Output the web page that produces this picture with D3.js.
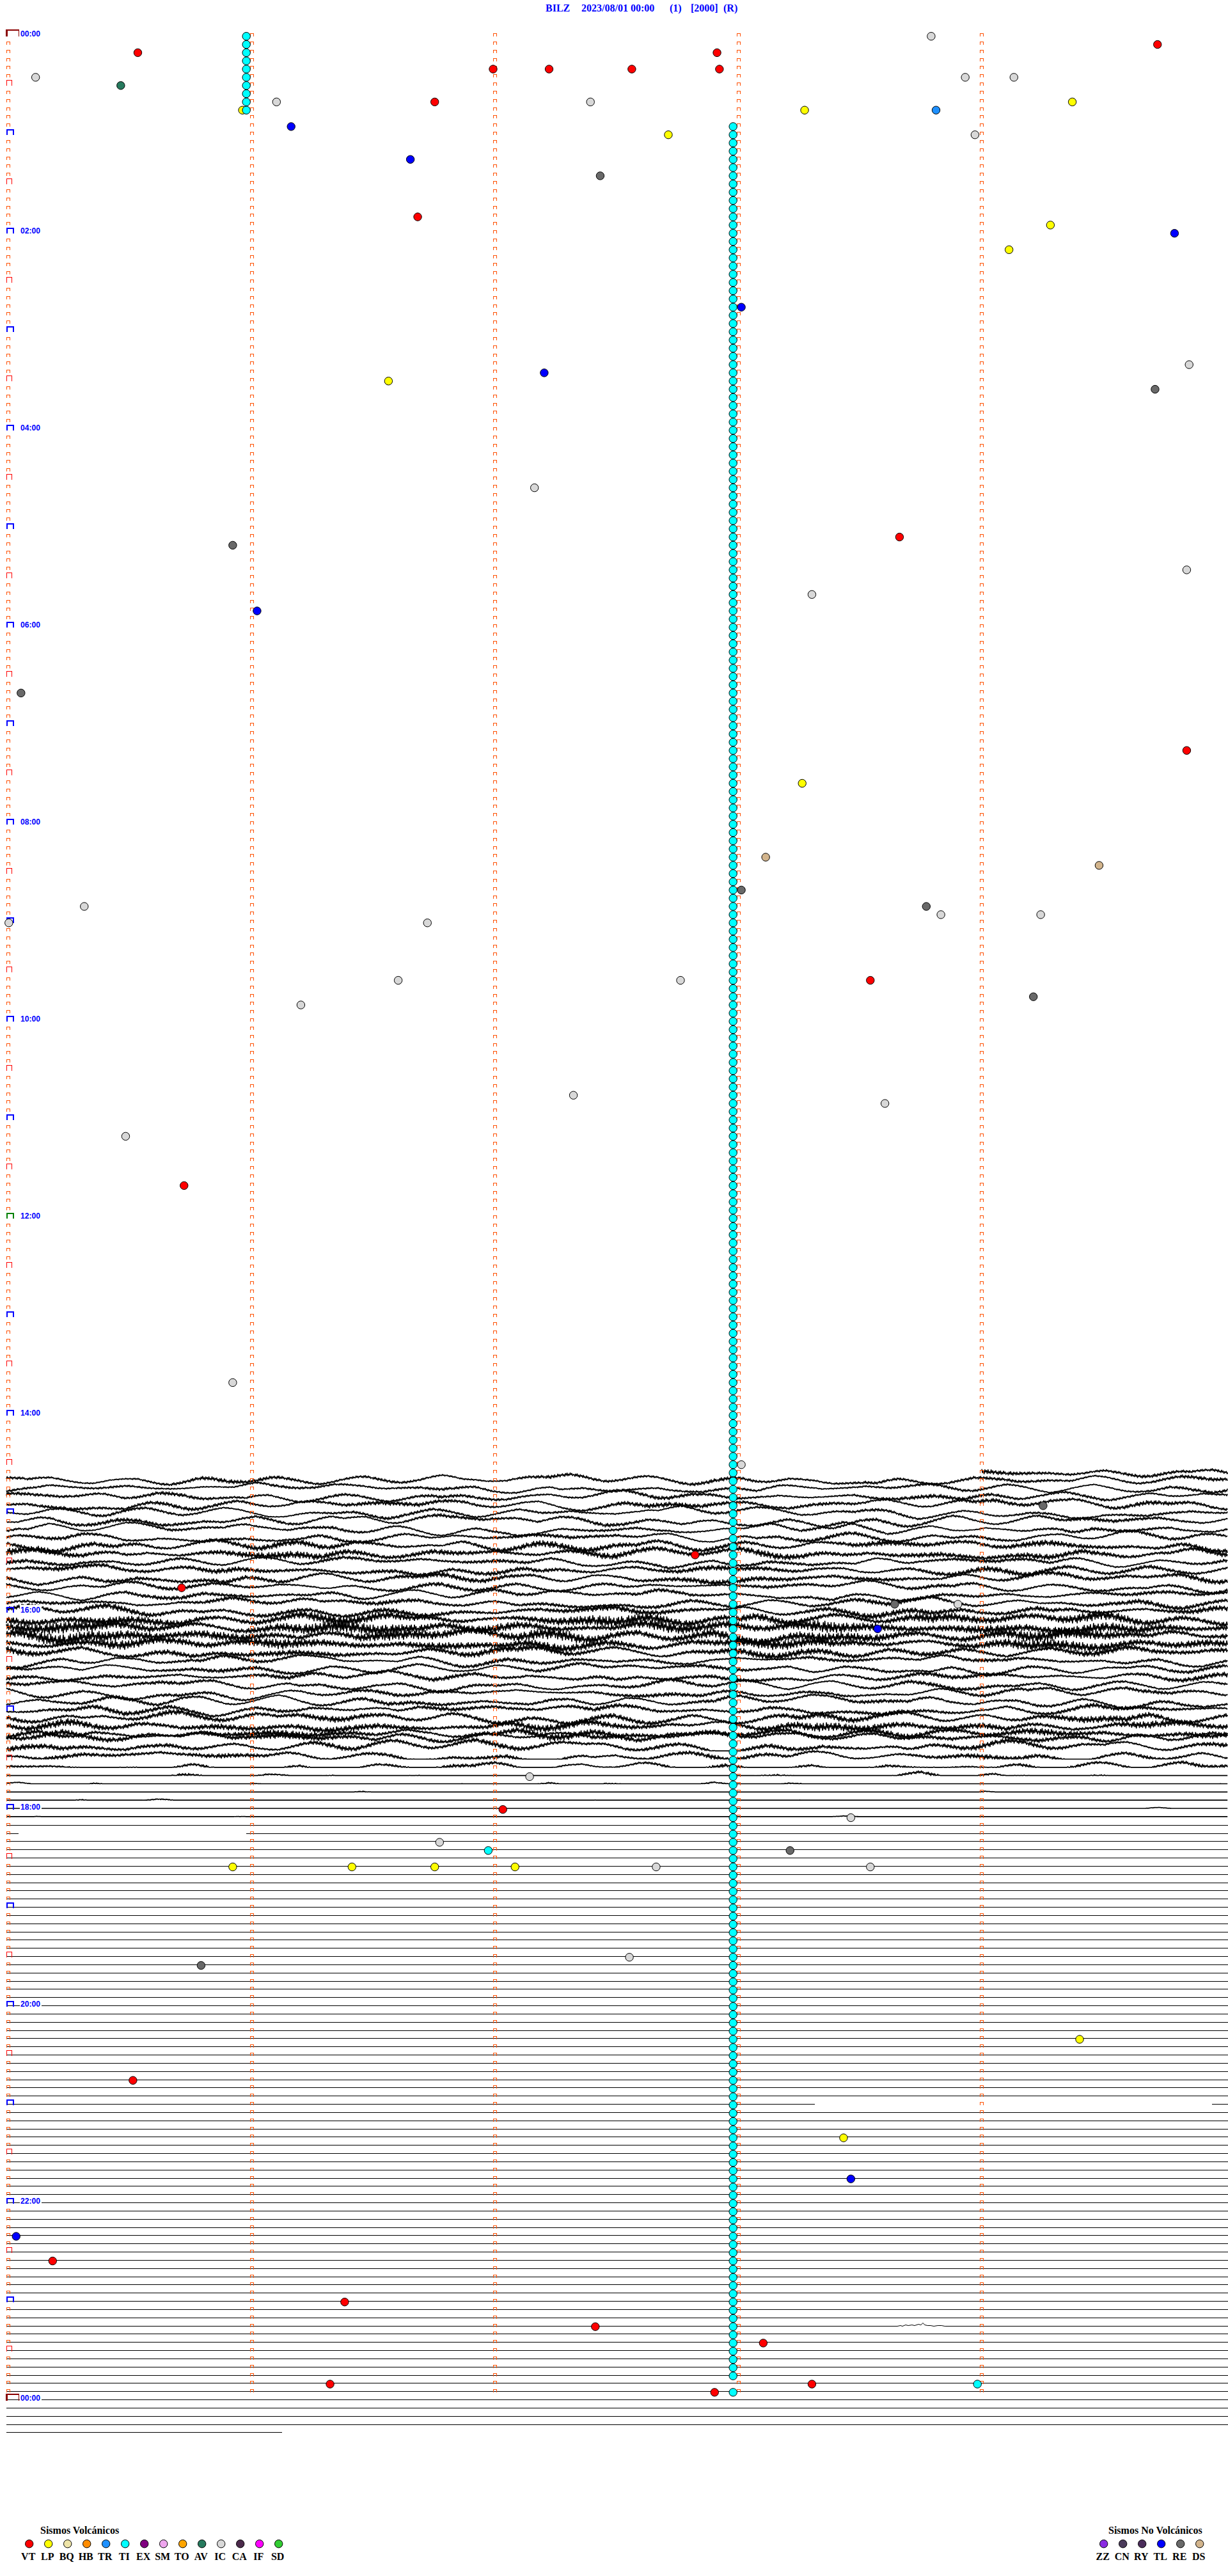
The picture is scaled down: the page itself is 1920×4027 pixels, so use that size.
<!DOCTYPE html>
<html><head><meta charset="utf-8"><title>BILZ 2023/08/01</title>
<script src="https://cdn.jsdelivr.net/npm/d3@7/dist/d3.min.js"></script>
<style>html,body{margin:0;padding:0;background:#fff;} svg{display:block;}</style>
</head><body>
<script>
// ================= DATA =================
const titleParts = ["BILZ", "2023/08/01 00:00", "(1)", "[2000]", "(R)"];
const hourLabels = ["00:00","02:00","04:00","06:00","08:00","10:00","12:00","14:00","16:00","18:00","20:00","22:00","00:00"];

const volcanicTypes  = ["VT","LP","BQ","HB","TR","TI","EX","SM","TO","AV","IC","CA","IF","SD"];
const volcanicColors = ["#ff0000","#ffff00","#eee4a8","#ff8c00","#1e90ff","#00ffff","#800080","#eea6ee","#ffa500","#267a5e","#d8d8d8","#4b2a4b","#ff00ff","#32cd32"];
const nonVolcanicTypes  = ["ZZ","CN","RY","TL","RE","DS"];
const nonVolcanicColors = ["#8a2be2","#4b3b5b","#4b2d5b","#0000ff","#696969","#d2b48c"];

// events: time of day in minutes, and type
const eventMinute = [3.80,9.73,10.54,12.92,22.00,22.23,22.57,22.93,25.12,28.94,29.14,30.47,41.11,41.76,42.40,44.38,45.97,48.28,48.82,56.17,
  62.72,63.98,76.66,87.44,111.69,119.29,124.80,134.12,168.02,207.21,211.57,204.86,219.72,277.17,308.67,310.93,329.85,351.03,343.31,400.06,
  439.85,458.27,503.12,509.49,523.02,533.78,538.84,539.25,530.32,540.01,541.73,576.61,577.77,578.55,589.22,591.21,647.33,653.61,670.49,700.73,
  820.93,873.02,899.26,927.83,945.72,958.65,958.91,973.58,1062.15,1082.04,1088.47,1101.78,1106.98,1108.22,1115.93,1116.42,1116.76,1117.09,1117.67,1118.55,
  1175.80,1172.56,1224.41,1245.52,1283.44,1308.47,1340.04,1355.19,1381.39,1397.42,1408.11,1431.33,1433.31,1433.99,1437.91];
const eventType = ["IC","VT","VT","VT","VT","VT","VT","VT","IC","IC","IC","AV","IC","VT","IC","LP","LP","LP","TR","TL",
  "LP","IC","TL","RE","VT","LP","TL","LP","TL","TL","LP","IC","RE","IC","VT","RE","IC","TL","IC","RE",
  "VT","LP","DS","DS","RE","RE","IC","IC","IC","IC","IC","IC","IC","VT","RE","IC","IC","IC","IC","VT",
  "IC","IC","RE","VT","VT","RE","IC","TL","IC","VT","IC","IC","TI","RE","LP","LP","LP","LP","IC","IC",
  "RE","IC","LP","VT","LP","TL","TL","VT","VT","VT","VT","VT","VT","TI","VT"];
// continuous tremor (TI) runs: one event per 5-minute row
const tiRunFrom = [0, 11], tiRunTo = [9, 287], tiRunMinute = [0.986, 2.986];
const tiRunSkip = [286];

// seismogram traces (rows of 5 minutes)
const traceFirstRow = 175, traceFirstStart = 4.008;
const ampLow = [7,8,9,8,9,9,10,10,9,9,8,9,8,9,8,9,8,8,8,7,8,7,8,9,9,8,9,9,10,9,9,8,8,9,9,8,8,7.5,7,6,5,4,3];
const ampJit = [3,2.5,2,2.5,3,2,2.5,2,2.5,4,4.5,2.5,3.5,3.5,2.5,2.5,3,4,6.5,7.5,7.5,6.5,4.5,2.5,2.5,3,2.5,2.5,2.5,3,4,5,4.5,3.5,3.5,3,2.5,2,1.5,1.2,1,0.6,0.5];
const clipFloor = [null,null,null,null,null,null,null,null,null,null,null,null,null,null,null,null,null,null,null,null,null,null,
  null,null,null,null,null,null,null,null,null,null,null,-10,-7,-4,0,3.5,5,5.5,4.5,3.2,2.4];
// waveform shapes traced from the record (unit amplitude)
const waveA = [0,0.5,0.9,0.4,-0.2,-0.6,-0.3,0.2,0.7,1,0.6,0.1,-0.4,-0.8,-0.5,0,0.3,0.1,-0.2,0.4,0.8,0.5,-0.1,-0.7,-1,-0.6,-0.1,0.3,0.6,0.2,-0.3,-0.5,
  -0.2,0.4,0.9,0.7,0.2,-0.3,-0.7,-0.4,0.1,0.5,0.3,-0.1,-0.6,-0.9,-0.4,0.2,0.6,0.8,0.3,-0.2,-0.5,-0.3,0.1,0.6,1,0.5,-0.1,-0.5,-0.8,-0.6,-0.2,0.3,
  0.5,0.2,-0.1,0.3,0.7,0.4,-0.2,-0.6,-0.4,0,0.4,0.8,0.6,0.1,-0.4,-0.9,-0.7,-0.2,0.2,0.5,0.1,-0.3,-0.1,0.4,0.9,0.5,0,-0.5,-0.7,-0.3,0.2,0.4];
const waveB = [0.3,-0.2,-0.7,-0.4,0.1,0.6,0.9,0.4,-0.1,-0.5,-0.2,0.3,0.1,-0.4,-0.9,-0.6,0,0.5,0.7,0.2,-0.3,-0.1,0.4,0.8,0.3,-0.3,-0.8,-0.5,0.1,0.4,
  0.2,-0.2,-0.6,-0.3,0.3,0.7,1,0.5,-0.2,-0.6,-0.4,0,0.5,0.3,-0.2,-0.7,-0.9,-0.3,0.2,0.6,0.4,0,-0.4,-0.2,0.3,0.8,0.6,0.1,-0.5,-0.8,
  -0.3,0.2,0.1,-0.3,0.2,0.6,0.9,0.3,-0.2,-0.6,-0.3,0.1,0.5,0.2,-0.3,-0.7,-0.4,0.2,0.5,0.1];
const driftShape = [0,0.4,0.8,0.5,-0.2,-0.7,-0.9,-0.4,0.2,0.6,0.3,-0.3,-0.6,-0.1];
const jitterShape = [0.2,-0.9,0.7,-0.4,1,-0.6,0.3,-1,0.8,-0.2,0.5,-0.8,0.9,-0.5,0.1,-0.7,1,-0.3,0.6,-0.9,0.4,-0.1,0.8,-0.6,0.2,-1,0.7,-0.4,0.9,-0.8,0.3,-0.5,1,-0.2,0.6,-0.7,0.1];
const jitterEnv = [0.6,1,0.8,0.4,0.7,1.2,0.9,0.5,0.3,0.8,1.3,1,0.6,0.9,0.5,0.4,1.1,0.8,0.6,1.2,0.7,0.5,0.9];

const flatFirstRow = 218, lastRow = 292, lastRowEnd = 1.133;
const gapRows = [219, 252], gapFrom = [0.05, 3.322], gapTo = [0.986, 4.954];
const wiggleRow = 279;
const wiggleMin = [3.661,3.674,3.682,3.695,3.706,3.721,3.732,3.748,3.758,3.766,3.774,3.785,3.798,3.811,3.827,3.843,3.856];
const wiggleAmp = [0,1,0,2,1,2,1,3,2,5,2,1,1,0,1,1,0];

// ================= LAYOUT =================
const W = 1920, H = 4027;
const rowMinutes = 5, rowsPerDay = 288, rowEndMin = 5.02;
const x = d3.scaleLinear().domain([0, 5]).range([10, 1912.5]);
const y = d3.scaleLinear().domain([0, rowsPerDay]).range([55, 3751]);
const colorOf = {};
volcanicTypes.forEach((t,i)=>colorOf[t]=volcanicColors[i]);
nonVolcanicTypes.forEach((t,i)=>colorOf[t]=nonVolcanicColors[i]);
colorOf.TL = "#0000ff";

const svg = d3.select("body").append("svg").attr("width", W).attr("height", H)
  .style("background","#fff");

// ---- title ----
const titleX = [853, 909, 1047, 1080, 1131];
svg.append("g").selectAll("text").data(titleParts).join("text")
  .attr("x", (d,i)=>titleX[i]).attr("y", 18)
  .attr("font-family", "'Liberation Serif','Times New Roman',serif")
  .attr("font-size", 16).attr("font-weight", "bold").attr("fill", "#0000ff")
  .text(d=>d);

// ---- traces ----
function interp(arr, pos){
  const n = arr.length; const p = ((pos % n) + n) % n;
  const i = Math.floor(p), f = p - i;
  return arr[i]*(1-f) + arr[(i+1)%n]*f;
}
const line = d3.line().x(d=>d[0]).y(d=>d[1]);
const gTr = svg.append("g").attr("fill","none").attr("stroke","#000");

for (let idx = 0; idx < ampLow.length; idx++) {
  const r = traceFirstRow + idx;
  const start = (r === traceFirstRow) ? traceFirstStart : 0;
  const sA = (r*29) % waveA.length, sB = (r*13) % waveB.length, sD = (r*3) % driftShape.length;
  const sJ = r*7, sE = (r*5) % jitterEnv.length;
  const fl = clipFloor[idx];
  const pts = [];
  let k = 0;
  for (let m = start; m <= rowEndMin; m += 0.0032, k++) {
    const u = (x(m) - x(0));
    const a = interp(waveA, u/17 + sA);
    const b = interp(waveB, u/23 + sB);
    const dr = interp(driftShape, u/140 + sD);
    const e = interp(jitterEnv, u/85 + sE);
    const j = jitterShape[(k + sJ) % jitterShape.length];
    let d = (0.62*a + 0.45*b) * ampLow[idx] + dr * ampLow[idx] * 0.5 + j * ampJit[idx] * e;
    if (fl !== null) d = Math.max(d, fl) - fl;
    pts.push([x(m), y(r) - d]);
  }
  gTr.append("path").attr("d", line(pts)).attr("stroke-width", 1.6).attr("stroke-linejoin","round");
}

// flat rows
const gFlat = svg.append("g").attr("stroke","#000").attr("stroke-width",1).attr("shape-rendering","crispEdges");
for (let r = flatFirstRow; r <= lastRow; r++) {
  const yy = Math.round(y(r)) + 0.5;
  let segs = [[0, r === lastRow ? lastRowEnd : rowEndMin]];
  const gi = gapRows.indexOf(r);
  if (gi >= 0) segs = [[0, gapFrom[gi]], [gapTo[gi], rowEndMin]];
  if (r === wiggleRow) {
    const pts = [[x(0), yy]].concat(wiggleMin.map((m,i)=>[x(m), yy - wiggleAmp[i]])).concat([[x(rowEndMin), yy]]);
    svg.append("path").attr("d", line(pts)).attr("fill","none").attr("stroke","#000").attr("stroke-width",1);
    continue;
  }
  segs.forEach(s => gFlat.append("line").attr("x1", x(s[0])).attr("x2", x(s[1])).attr("y1", yy).attr("y2", yy));
}

// ---- minute / hour markers ----
const gM = svg.append("g").attr("fill","none").attr("shape-rendering","crispEdges");
for (let r = 0; r <= rowsPerDay; r++) {
  const yy = Math.round(y(r));
  const x0 = Math.round(x(0)) + 0.5;
  if (r % 12 === 0) {
    if (r === 0 || r === rowsPerDay) {
      gM.append("path").attr("d", `M${x0},${yy+2}V${yy-8}H${x0+19}`).attr("stroke","#8b0000").attr("stroke-width",2.2);
      gM.append("path").attr("d", `M${x0+19},${yy-8}V${yy+2}`).attr("stroke","#8b0000").attr("stroke-width",1);
    } else {
      const col = (r === 144) ? "#008000" : "#0000ff";
      gM.append("path").attr("d", `M${x0},${yy+2}V${yy-6}H${x0+10}V${yy+2}`).attr("stroke", col).attr("stroke-width",2);
    }
  } else if (r % 6 === 0) {
    gM.append("path").attr("d", `M${x0},${yy+2}V${yy-7}H${x0+8}V${yy+2}`).attr("stroke","#ff0000").attr("stroke-width",1);
  } else {
    gM.append("path").attr("d", `M${x0},${yy+2}V${yy-3}H${x0+5}V${yy+2}`).attr("stroke","#ff5000").attr("stroke-width",1);
  }
  if (r < rowsPerDay) {
    for (let m = 1; m <= 4; m++) {
      const xm = Math.round(x(m)) + 0.5;
      gM.append("path").attr("d", `M${xm},${yy+2}V${yy-3}H${xm+5}V${yy+2}`).attr("stroke","#ff5000").attr("stroke-width",1);
    }
  }
}

// ---- hour labels ----
const gL = svg.append("g");
hourLabels.forEach((lab, i) => {
  const r = i * 24;
  const yy = y(r);
  gL.append("rect").attr("x", 31).attr("y", yy - 10).attr("width", 34).attr("height", 12).attr("fill", "#fff");
  gL.append("text").attr("x", 32).attr("y", yy + 1.5)
    .attr("font-family", "'Liberation Sans',Arial,sans-serif").attr("font-weight","bold")
    .attr("font-size", 13).attr("fill", "#0000ff")
    .attr("textLength", 31).attr("lengthAdjust","spacingAndGlyphs")
    .text(lab);
});

// ---- events ----
const events = eventMinute.map((t,i)=>{
  const r = Math.floor(t / rowMinutes + 1e-9);
  return {row: r, min: t - r*rowMinutes, type: eventType[i]};
});
tiRunFrom.forEach((f,i)=>{
  for (let r = f; r <= tiRunTo[i]; r++) {
    if (tiRunSkip.includes(r)) continue;
    events.push({row: r, min: tiRunMinute[i], type: "TI"});
  }
});
svg.append("g").selectAll("circle").data(events).join("circle")
  .attr("cx", d=>x(d.min)).attr("cy", d=>y(d.row)+1.7).attr("r", 6.2)
  .attr("fill", d=>colorOf[d.type]).attr("stroke","#000").attr("stroke-width",1);

// ---- legends ----
const serif = "'Liberation Serif','Times New Roman',serif";
function legend(types, colors, title, titleX, cx0) {
  const g = svg.append("g");
  g.append("text").attr("x", titleX).attr("y", 3961).attr("font-family", serif)
    .attr("font-weight","bold").attr("font-size",16).attr("fill","#000").text(title);
  g.selectAll("circle").data(types).join("circle")
    .attr("cx", (d,i)=>cx0 + 30*i).attr("cy", 3976.7).attr("r", 6.2)
    .attr("fill", (d,i)=>colors[i]).attr("stroke","#000").attr("stroke-width",1);
  g.selectAll("text.lab").data(types).join("text").attr("class","lab")
    .attr("x", (d,i)=>cx0 + 30*i - 1.5).attr("y", 4001.5).attr("text-anchor","middle")
    .attr("font-family", serif).attr("font-weight","bold").attr("font-size",16).attr("fill","#000")
    .text(d=>d);
}
legend(volcanicTypes, volcanicColors, "Sismos Volcánicos", 63, 45.7);
legend(nonVolcanicTypes, nonVolcanicColors, "Sismos No Volcánicos", 1733, 1725.7);
</script>
</body></html>
